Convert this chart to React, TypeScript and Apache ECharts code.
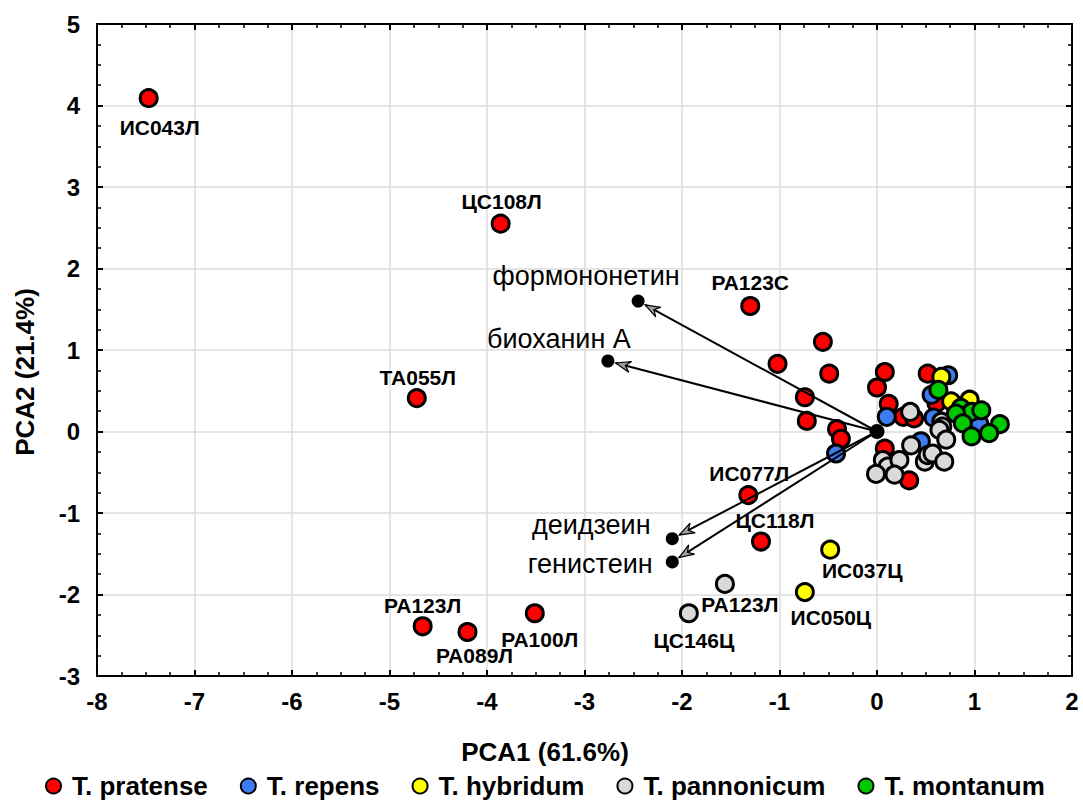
import React, { useEffect, useRef } from "react";
import * as echarts from "echarts";

// ---- data ----
const speciesNames = ["T. pratense", "T. repens", "T. hybridum", "T. pannonicum", "T. montanum"];
const speciesColors = ["#ff0000", "#3d7cf0", "#ffff00", "#d9d9d9", "#00c800"];

const pratenseX = [-7.47, -3.86, -1.30, -4.72, -1.32, -1.19, -4.66, -4.20, -3.51, -0.555, -1.02, -0.49, -0.74, -0.72, -0.41, -0.37, 0.08, 0.00, 0.12, 0.27, 0.38, 0.52, 0.61, 0.08, 0.33];
const pratenseY = [4.09, 2.55, 1.54, 0.41, -0.78, -1.35, -2.39, -2.46, -2.23, 1.10, 0.83, 0.71, 0.42, 0.13, 0.03, -0.09, 0.73, 0.54, 0.34, 0.18, 0.16, 0.71, 0.35, -0.21, -0.60];
const pratenseLabels = ["ИС043Л", "ЦС108Л", "РА123С", "ТА055Л", "ИС077Л", "ЦС118Л", "РА123Л", "РА089Л", "РА100Л"];

const repensX = [-0.42, 0.10, 0.56, 0.73, 0.58, 0.45, 1.05];
const repensY = [-0.27, 0.18, 0.45, 0.69, 0.17, -0.12, 0.09];

const hybridumX = [-0.48, -0.74, 0.66, 0.76, 0.95];
const hybridumY = [-1.45, -1.97, 0.67, 0.37, 0.39];
const hybridumLabels = ["ИС037Ц", "ИС050Ц"];

const pannonicumX = [-1.56, -1.93, 0.34, 0.66, 0.67, 0.64, 0.71, 0.35, 0.06, 0.11, -0.01, 0.23, 0.18, 0.49, 0.52, 0.57, 0.69];
const pannonicumY = [-1.87, -2.23, 0.24, 0.12, 0.06, 0.02, -0.10, -0.17, -0.35, -0.43, -0.52, -0.35, -0.53, -0.37, -0.29, -0.27, -0.37];
const pannonicumLabels = ["РА123Л", "ЦС146Ц"];

const montanumX = [0.63, 0.86, 0.97, 1.07, 0.81, 0.88, 1.26, 1.15, 0.97];
const montanumY = [0.51, 0.29, 0.24, 0.26, 0.22, 0.10, 0.09, -0.02, -0.06];

const loadingNames = ["формононетин", "биоханин А", "деидзеин", "генистеин"];
const loadingX = [-2.45, -2.76, -2.10, -2.10];
const loadingY = [1.60, 0.865, -1.315, -1.60];

const xTicks = { min: -8, max: 2, interval: 1 };
const yTicks = { min: -3, max: 5, interval: 1 };

// ---- label placement (style only) ----
const labelOffsets: Record<string, number[]> = {
  "ИС043Л": [11, 29],
  "ЦС108Л": [1, -22],
  "РА123С": [0, -23],
  "ТА055Л": [1, -21],
  "ИС077Л": [1, -22],
  "ЦС118Л": [14, -21],
  "РА123Л-0": [0, -21],
  "РА089Л": [7, 24],
  "РА100Л": [5, 26],
  "ИС037Ц": [32, 21],
  "ИС050Ц": [26, 25],
  "РА123Л-3": [15, 21],
  "ЦС146Ц": [5, 27],
};
const loadingOffsets = [[-52, -25], [-49, -22], [-81, -14], [-82, 2]];

const FONT = "'Liberation Sans', Arial, sans-serif";

function buildPoints(xs: number[], ys: number[], labels: string[], si: number) {
  return xs.map((x, i) => {
    const name = labels[i] || "";
    const item: any = { value: [x, ys[i]], name };
    if (name) {
      const key = labelOffsets[name + "-" + si] ? name + "-" + si : name;
      item.label = {
        show: true,
        formatter: name,
        position: "inside",
        offset: labelOffsets[key] || [0, -22],
        fontFamily: FONT,
        fontWeight: "bold",
        fontSize: 21,
        color: "#000",
        align: "center",
        verticalAlign: "middle",
      };
    }
    return item;
  });
}

export default function App() {
  const ref = useRef<HTMLDivElement>(null);
  useEffect(() => {
    if (!ref.current) return;
    const chart = echarts.init(ref.current, null, { renderer: "svg" });
    const sets = [
      [pratenseX, pratenseY, pratenseLabels],
      [repensX, repensY, []],
      [hybridumX, hybridumY, hybridumLabels],
      [pannonicumX, pannonicumY, pannonicumLabels],
      [montanumX, montanumY, []],
    ] as [number[], number[], string[]][];

    const scatterSeries = sets.map(([xs, ys, lb], si) => ({
      type: "scatter",
      name: speciesNames[si],
      symbol: "circle",
      symbolSize: 17,
      z: 3,
      itemStyle: { color: speciesColors[si], borderColor: "#000", borderWidth: 3, opacity: 1 },
      emphasis: { disabled: true },
      data: buildPoints(xs, ys, lb, si),
    }));

    const axisCommon = {
      type: "value",
      axisLine: { show: true, onZero: false, lineStyle: { color: "#000", width: 2 } },
      axisTick: { show: true, inside: true, length: 6, lineStyle: { color: "#000", width: 2 } },
      minorTick: { show: true, splitNumber: 4, length: 4, lineStyle: { color: "#000", width: 1.5 } },
    };

    const option: any = {
      animation: false,
      backgroundColor: "#fff",
      grid: { left: 97, right: 11, top: 24, bottom: 126 },
      xAxis: [
        {
          ...axisCommon,
          ...xTicks,
          position: "bottom",
          splitLine: { show: true, lineStyle: { color: "#dcdcdc", width: 1.5 } },
          axisLabel: { fontFamily: FONT, fontWeight: "bold", fontSize: 24, color: "#000", margin: 13 },
        },
        {
          ...axisCommon,
          ...xTicks,
          position: "top",
          splitLine: { show: false },
          axisLabel: { show: false },
        },
      ],
      yAxis: [
        {
          ...axisCommon,
          ...yTicks,
          position: "left",
          splitLine: { show: true, lineStyle: { color: "#dcdcdc", width: 1.5 } },
          axisLabel: { fontFamily: FONT, fontWeight: "bold", fontSize: 24, color: "#000", margin: 17 },
        },
        {
          ...axisCommon,
          ...yTicks,
          position: "right",
          splitLine: { show: false },
          axisLabel: { show: false },
        },
      ],
      legend: {
        data: speciesNames,
        top: 772,
        left: 45,
        padding: 0,
        icon: "circle",
        itemWidth: 15,
        itemHeight: 15,
        itemGap: 32,
        textStyle: { fontFamily: FONT, fontWeight: "bold", fontSize: 26, lineHeight: 28, color: "#000", padding: [0, 0, 0, 6] },
      },
      graphic: [
        {
          type: "text",
          x: 545,
          y: 752,
          style: { text: "PCA1 (61.6%)", fontFamily: FONT, fontWeight: "bold", fontSize: 26, fill: "#000", align: "center", verticalAlign: "middle" },
        },
        {
          type: "text",
          x: 25,
          y: 372,
          rotation: Math.PI / 2,
          style: { text: "PCA2 (21.4%)", fontFamily: FONT, fontWeight: "bold", fontSize: 26, fill: "#000", align: "center", verticalAlign: "middle" },
        },
      ],
      series: [
        {
          type: "custom",
          name: "arrows",
          z: 4,
          silent: true,
          encode: { x: 0, y: 1 },
          data: loadingX.map((x, i) => [x, loadingY[i]]),
          renderItem: (params: any, api: any) => {
            const o = api.coord([0, 0]);
            const e = api.coord([api.value(0), api.value(1)]);
            const dx = e[0] - o[0];
            const dy = e[1] - o[1];
            const L = Math.hypot(dx, dy);
            const ux = dx / L, uy = dy / L;
            const nx = -uy, ny = ux;
            const tip = [e[0] - ux * 8, e[1] - uy * 8];
            const base = [tip[0] - ux * 15, tip[1] - uy * 15];
            const notch = [tip[0] - ux * 10, tip[1] - uy * 10];
            const b1 = [base[0] + nx * 5.5, base[1] + ny * 5.5];
            const b2 = [base[0] - nx * 5.5, base[1] - ny * 5.5];
            return {
              type: "group",
              children: [
                { type: "line", shape: { x1: o[0], y1: o[1], x2: tip[0], y2: tip[1] }, style: { stroke: "#000", lineWidth: 2 } },
                { type: "polygon", shape: { points: [tip, b1, notch, b2] }, style: { fill: "#a0a0a0", stroke: "#000", lineWidth: 1.2 } },
              ],
            };
          },
        },
        {
          type: "scatter",
          name: "loadings",
          symbolSize: 13,
          z: 5,
          itemStyle: { color: "#000", opacity: 1 },
          emphasis: { disabled: true },
          data: loadingX.map((x, i) => ({
            value: [x, loadingY[i]],
            name: loadingNames[i],
            label: {
              show: true,
              formatter: loadingNames[i],
              position: "inside",
              offset: loadingOffsets[i],
              fontFamily: FONT,
              fontSize: 27,
              color: "#000",
              opacity: 1,
              align: "center",
              verticalAlign: "middle",
            },
          })),
        },
        {
          type: "scatter",
          name: "origin",
          symbolSize: 15,
          z: 5,
          itemStyle: { color: "#000", opacity: 1 },
          emphasis: { disabled: true },
          data: [[0, 0]],
        },
        ...scatterSeries,
      ],
    };
    chart.setOption(option);
    return () => chart.dispose();
  }, []);
  return <div ref={ref} style={{ position: "fixed", left: 0, top: 0, width: 1083, height: 802 }} />;
}
